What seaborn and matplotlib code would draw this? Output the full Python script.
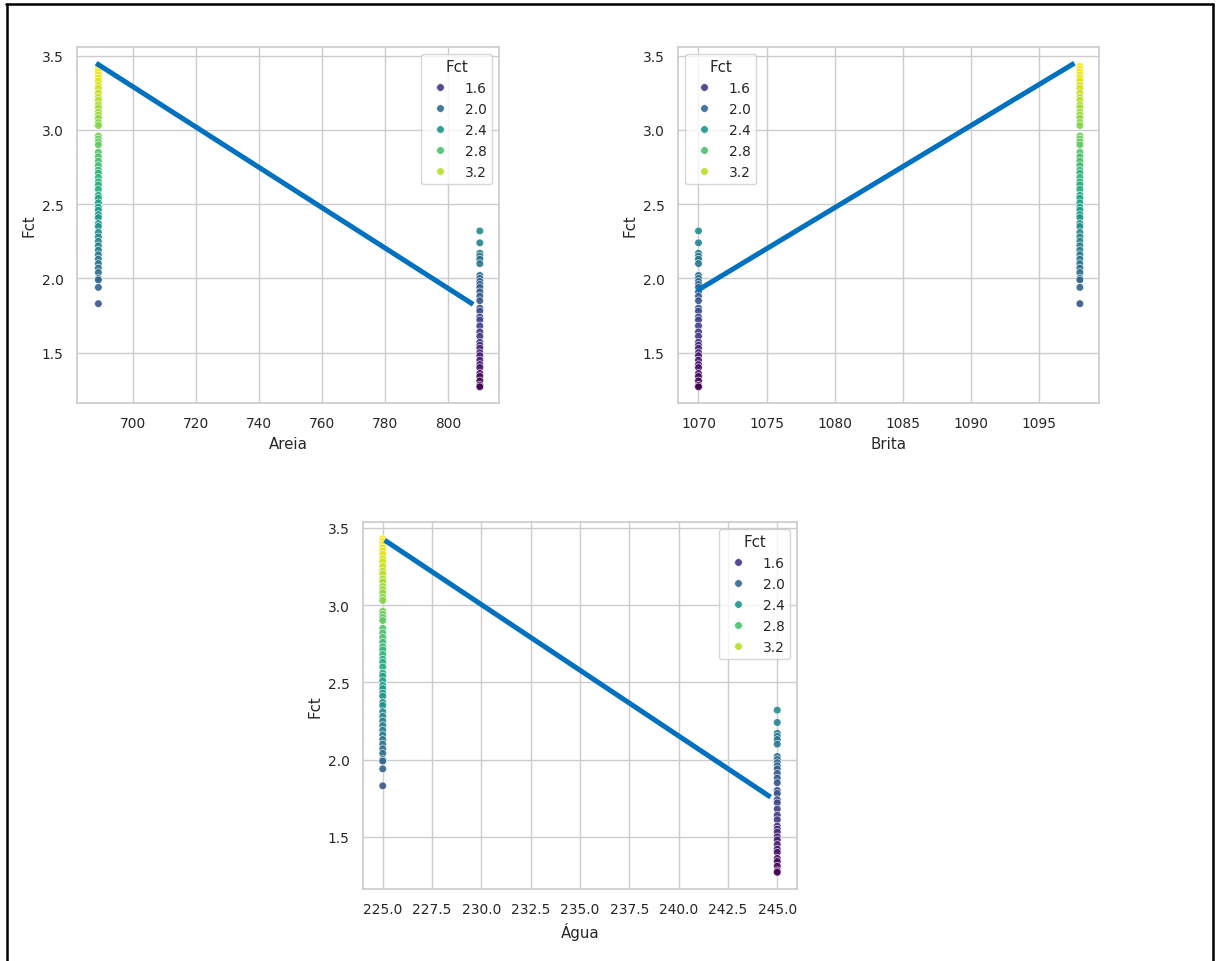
import matplotlib

matplotlib.use('Agg')
import matplotlib.pyplot as plt
from matplotlib.lines import Line2D
import numpy as np
import pandas as pd
import seaborn as sns

# Fct values of the two mixes
fct_mix_a = [3.43, 3.41, 3.39, 3.37, 3.35, 3.33, 3.30, 3.28, 3.25, 3.22, 3.20, 3.17,
             3.15, 3.12, 3.10, 3.08, 3.05, 3.03, 2.96, 2.94, 2.92, 2.90, 2.85, 2.82,
             2.79, 2.76, 2.73, 2.71, 2.68, 2.65, 2.63, 2.60, 2.56, 2.54, 2.51, 2.48,
             2.46, 2.43, 2.41, 2.37, 2.35, 2.31, 2.28, 2.25, 2.22, 2.19, 2.16, 2.13,
             2.10, 2.07, 2.04, 2.00, 1.99, 1.94, 1.83]
fct_mix_b = [2.32, 2.24, 2.17, 2.15, 2.13, 2.10, 2.02, 2.00, 1.98, 1.96, 1.94, 1.91,
             1.88, 1.85, 1.80, 1.78, 1.74, 1.72, 1.68, 1.64, 1.61, 1.57, 1.55, 1.53,
             1.50, 1.48, 1.45, 1.42, 1.40, 1.36, 1.34, 1.31, 1.28, 1.27]

# composition of each mix
areia = [689, 810]
brita = [1098, 1070]
agua = [225, 245]

# hand drawn trend lines (x ends, y ends)
line_areia_x = [688.3, 807.9]
line_areia_y = [3.45, 1.825]
line_brita_x = [1069.9, 1097.6]
line_brita_y = [1.918, 3.45]
line_agua_x = [225.1, 244.66]
line_agua_y = [3.42, 1.757]

rows = []
for i, fcts in enumerate([fct_mix_a, fct_mix_b]):
    for v in fcts:
        rows.append({'Areia': areia[i], 'Brita': brita[i], 'Água': agua[i], 'Fct': v})
df = pd.DataFrame(rows)

sns.set_theme(style='whitegrid', context='notebook', font_scale=0.9)
plt.rcParams['font.family'] = ['DejaVu Sans']

W, H = 1219, 962
fig = plt.figure(figsize=(W / 100, H / 100), dpi=100)


def px_axes(l, t, r, b):
    return fig.add_axes([l / W, 1 - b / H, (r - l) / W, (b - t) / H])


panels = [
    ('Areia', (77, 48, 499, 404), line_areia_x, line_areia_y, 'upper right'),
    ('Brita', (678, 48, 1099, 404), line_brita_x, line_brita_y, 'upper left'),
    ('Água', (363, 523, 797, 890), line_agua_x, line_agua_y, 'upper right'),
]

for col, box, lx, ly, loc in panels:
    ax = px_axes(*box)
    sns.scatterplot(data=df, x=col, y='Fct', hue='Fct', palette='viridis',
                    s=30, alpha=0.9, ax=ax)
    ax.plot(lx, ly, color='#0070C0', lw=3.6, solid_capstyle='butt')
    sns.move_legend(ax, loc, title='Fct')

# black frame around the picture (top, left, right)
for xs, ys in [([6 / W, 1213 / W], [1 - 5 / H, 1 - 5 / H]),
               ([6.5 / W, 6.5 / W], [0, 1 - 5 / H]),
               ([1213 / W, 1213 / W], [0, 1 - 5 / H])]:
    fig.add_artist(Line2D(xs, ys, color='black', lw=1.8))

plt.savefig('out.png', dpi=100)
plt.close()
